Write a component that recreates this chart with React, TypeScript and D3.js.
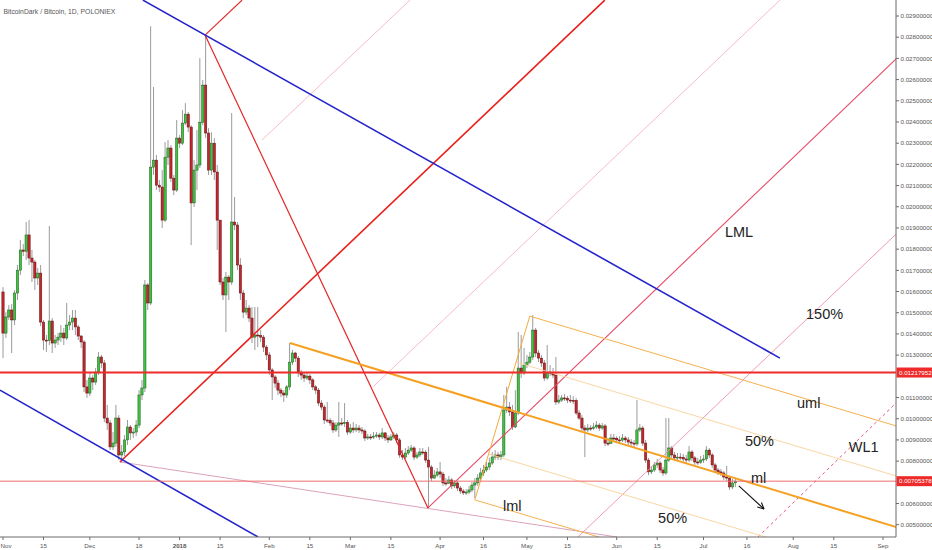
import React from 'react';
import * as d3 from 'd3';

const W = 932;
const H = 550;
const START = Date.UTC(2017, 10, 1);
const END = Date.UTC(2018, 8, 1);
const DAY = 86400000;

// Daily candles, values in milli-BTC (x 0.001 BTC). Candle i is Nov 1 2017 + i days.
const firstOpen = 15.98;
const closes = [
  14.04, 14.8, 15.13, 14.66, 15.93, 17.01, 17.96, 17.9, 18.67, 17.58,
  17.39, 16.64, 16.87, 14.56, 13.71, 13.69, 14.61, 13.57, 13.71, 13.85,
  14.04, 13.81, 14.42, 14.56, 14.75, 14.33, 13.9, 13.62, 11.5, 11.21,
  11.92, 11.73, 12.2, 12.91, 12.63, 10.03, 9.8, 8.67, 8.85, 10.03,
  8.29, 8.43, 9.0, 9.61, 9.33, 9.37, 9.7, 11.12, 11.45, 16.31,
  15.46, 21.87, 22.2, 21.02, 20.93, 19.37, 22.34, 22.77, 21.35, 20.79,
  23.24, 23.0, 23.95, 24.37, 23.76, 20.18, 21.73, 21.97, 23.99, 25.74,
  23.48, 21.73, 23.0, 21.64, 19.37, 16.45, 15.84, 16.68, 16.45, 19.28,
  19.14, 17.25, 15.93, 15.03, 15.22, 14.75, 13.85, 13.95, 13.93, 13.85,
  13.38, 13.01, 12.3, 11.97, 11.68, 11.35, 11.21, 11.12, 11.5, 12.67,
  13.1, 12.86, 12.16, 12.06, 11.92, 12.01, 11.83, 11.5, 11.35, 10.74,
  10.55, 9.94, 9.92, 9.8, 9.47, 9.7, 9.8, 9.79, 9.82, 9.37,
  9.56, 9.47, 9.56, 9.47, 9.42, 9.09, 9.14, 9.13, 9.18, 9.23,
  9.14, 9.33, 9.09, 9.0, 9.14, 9.23, 9.0, 8.29, 8.19, 8.38,
  8.52, 8.62, 8.19, 8.29, 8.43, 8.42, 8.05, 7.72, 7.2, 7.34,
  7.49, 7.39, 6.97, 6.96, 7.11, 6.83, 6.97, 6.73, 6.59, 6.5,
  6.54, 6.64, 6.87, 6.97, 7.2, 7.44, 7.58, 7.72, 7.91, 8.19,
  8.29, 8.19, 8.29, 10.41, 10.55, 10.32, 9.61, 10.27, 12.39, 12.16,
  12.53, 12.67, 12.91, 14.18, 13.1, 12.86, 12.63, 11.92, 12.2, 12.19,
  12.06, 10.79, 10.88, 10.98, 10.97, 10.88, 10.87, 10.86, 10.27, 10.03,
  9.56, 9.47, 9.56, 9.55, 9.61, 9.7, 9.56, 9.66, 8.85, 8.84,
  9.09, 9.08, 9.0, 8.99, 9.09, 9.0, 8.9, 8.85, 8.81, 9.47,
  9.56, 8.85, 8.05, 7.49, 7.58, 7.82, 7.91, 7.58, 7.44, 8.05,
  8.62, 8.29, 8.15, 8.19, 8.18, 8.1, 8.05, 8.43, 8.15, 7.96,
  7.95, 8.05, 8.1, 8.52, 8.29, 7.82, 7.58, 7.49, 7.44, 7.25,
  7.2, 6.78, 6.97, 7.05,
];
const highs = [
  16.21, 15.03, 15.36, 15.41, 16.07, 17.25, 18.43, 18.24, 19.28, 19.37,
  17.96, 17.49, 17.11, 17.25, 14.66, 13.95, 19.09, 14.75, 13.95, 14.04,
  14.42, 14.28, 15.46, 14.89, 15.13, 15.13, 14.42, 13.95, 13.71, 11.83,
  12.2, 12.06, 12.39, 13.15, 13.01, 12.77, 10.65, 9.94, 9.37, 10.65,
  10.17, 8.76, 9.23, 9.94, 9.7, 9.56, 9.94, 11.35, 11.83, 16.54,
  16.4, 28.52, 25.65, 22.44, 21.26, 21.73, 23.05, 23.15, 22.91, 21.5,
  24.09, 23.38, 24.56, 24.89, 24.47, 23.85, 22.2, 23.62, 27.01, 25.98,
  28.1, 23.71, 23.52, 23.24, 21.97, 19.37, 16.64, 16.92, 16.78, 24.42,
  20.46, 19.28, 17.58, 16.07, 15.6, 15.36, 15.27, 15.27, 15.27, 14.18,
  13.95, 13.48, 13.15, 12.39, 12.06, 11.83, 11.45, 11.35, 11.59, 13.57,
  13.24, 13.15, 12.96, 12.3, 12.2, 12.2, 12.11, 11.92, 11.59, 11.45,
  10.88, 10.65, 10.79, 10.03, 9.94, 9.84, 10.79, 10.03, 10.74, 9.94,
  9.75, 9.84, 9.75, 9.7, 9.61, 9.51, 9.28, 9.28, 9.37, 9.37,
  9.33, 9.56, 9.37, 9.23, 9.28, 9.37, 9.33, 9.09, 8.52, 8.62,
  8.71, 8.76, 8.71, 8.43, 8.62, 8.62, 8.52, 8.67, 7.82, 7.58,
  7.68, 7.96, 7.49, 7.2, 7.3, 7.2, 7.11, 7.06, 6.83, 6.68,
  6.68, 6.83, 7.01, 7.2, 7.39, 7.68, 7.82, 7.96, 8.15, 8.43,
  8.52, 8.43, 8.48, 11.12, 11.5, 10.79, 10.65, 11.35, 14.09, 13.95,
  13.34, 13.01, 13.15, 14.89, 14.28, 13.24, 13.01, 12.77, 13.48, 12.53,
  12.39, 12.91, 11.12, 11.12, 11.16, 11.07, 11.12, 11.07, 10.98, 10.41,
  10.17, 9.7, 9.75, 9.7, 9.8, 9.89, 9.8, 9.8, 9.75, 9.09,
  9.28, 9.28, 9.18, 9.18, 9.28, 9.18, 9.14, 9.04, 9.0, 10.88,
  9.75, 9.66, 9.0, 8.15, 7.77, 7.96, 8.1, 8.0, 7.72, 10.03,
  10.03, 8.71, 8.43, 8.38, 8.38, 8.33, 8.29, 8.71, 8.52, 8.24,
  8.15, 8.24, 8.29, 8.71, 8.62, 8.38, 7.91, 7.68, 7.63, 7.53,
  7.77, 7.3, 7.16, 7.2,
];
const lows = [
  12.86, 13.81, 14.66, 13.1, 14.42, 15.6, 16.78, 17.67, 17.49, 17.25,
  16.45, 16.07, 16.31, 14.37, 13.24, 13.15, 13.48, 13.1, 13.34, 13.48,
  13.62, 13.48, 13.71, 14.18, 14.18, 13.95, 13.71, 13.34, 11.26, 10.98,
  11.07, 11.35, 11.59, 12.06, 12.39, 9.84, 9.47, 8.52, 8.52, 8.67,
  8.05, 7.91, 8.24, 8.76, 9.0, 9.09, 9.18, 9.56, 10.88, 11.26,
  15.13, 15.36, 21.5, 20.79, 20.69, 19.0, 19.28, 21.97, 21.17, 20.55,
  20.69, 22.77, 22.91, 23.85, 23.52, 18.19, 19.99, 20.79, 21.83, 23.85,
  23.24, 21.5, 21.5, 21.26, 17.96, 16.31, 15.6, 14.09, 15.6, 16.31,
  18.9, 17.01, 15.6, 14.75, 14.89, 14.56, 13.57, 13.24, 13.38, 13.62,
  13.15, 12.77, 12.06, 10.88, 11.45, 11.12, 11.02, 10.79, 10.98, 11.35,
  12.53, 12.67, 11.97, 11.83, 11.73, 11.83, 11.64, 11.35, 11.16, 10.6,
  10.41, 9.75, 9.8, 9.66, 9.33, 9.37, 9.14, 9.66, 9.61, 9.23,
  9.28, 9.33, 9.37, 9.33, 9.28, 8.95, 9.0, 9.0, 9.04, 9.09,
  9.0, 9.04, 8.95, 8.85, 8.95, 9.04, 8.85, 8.15, 8.05, 8.1,
  8.29, 8.43, 8.05, 8.1, 8.19, 8.29, 7.91, 5.79, 7.06, 7.16,
  7.25, 7.2, 6.83, 6.83, 6.92, 6.68, 6.73, 6.59, 6.45, 6.4,
  6.4, 6.45, 6.54, 6.26, 6.83, 7.11, 7.3, 7.49, 7.58, 7.82,
  8.05, 8.05, 8.05, 8.19, 10.27, 10.13, 9.47, 9.56, 10.17, 11.92,
  12.06, 12.39, 12.58, 12.77, 12.91, 12.67, 12.44, 11.78, 11.83, 12.01,
  11.92, 10.65, 10.69, 10.79, 10.84, 10.74, 10.74, 10.69, 10.17, 9.94,
  9.42, 8.19, 9.37, 9.42, 9.47, 9.51, 9.42, 9.47, 8.71, 8.71,
  8.81, 8.95, 8.85, 8.85, 8.9, 8.85, 8.76, 8.71, 8.67, 8.71,
  9.37, 8.71, 7.91, 7.34, 7.39, 7.49, 7.68, 7.44, 7.3, 7.34,
  7.96, 8.15, 8.0, 8.0, 8.05, 7.96, 7.91, 7.96, 8.0, 7.82,
  7.82, 7.87, 7.91, 8.0, 8.15, 7.68, 7.44, 7.34, 7.3, 7.11,
  7.06, 6.64, 6.68, 6.78,
];

// Price axis ticks (mBTC) and time axis ticks
const priceTicks = d3.range(5, 29.5, 1);
const xTickDates = [
  '2017-11-01', '2017-11-15', '2017-12-01', '2017-12-18', '2018-01-01', '2018-01-15',
  '2018-02-01', '2018-02-15', '2018-03-01', '2018-03-15', '2018-04-01', '2018-04-16',
  '2018-05-01', '2018-05-15', '2018-06-01', '2018-06-15', '2018-07-01', '2018-07-16',
  '2018-08-01', '2018-08-15', '2018-09-01',
];
const xTickLabels = [
  'Nov', '15', 'Dec', '18', '2018', '15', 'Feb', '15', 'Mar', '15', 'Apr', '16',
  'May', '15', 'Jun', '15', 'Jul', '16', 'Aug', '15', 'Sep',
];

// Drawing anchors: [day offset from Nov 1 2017, price in mBTC]
const blueLines = [
  [[48.3, 29.75], [268.4, 12.86]],
  [[-1.04, 11.35], [88.1, 4.42]],
];
const redThickLine = [[40.4, 7.96], [207.9, 29.75]];
const redSwingLines = [
  [[69.8, 28.1], [146.8, 5.79]],
  [[69.8, 28.1], [82.6, 29.75]],
];
const lmlLine = [[146.8, 5.79], [310, 27.17]];
const pinkFaintLines = [
  [[89.5, 23.15], [140.6, 29.75]],
  [[127.8, 11.5], [268.4, 29.75]],
];
const pink150Line = [[198.6, 4.42], [310, 18.9]];
const wl1Line = [[260.8, 4.42], [310, 10.94]];
const mauveLine = [[40.4, 7.96], [212.1, 4.42]];
const orangeMedian = [[99.1, 13.57], [310, 4.83]];
const orangeUpper = [[182.0, 14.84], [310, 9.6]];
const orangeLower = [[163.0, 6.17], [230, 3.43]];
const orangeHandle = [[163.0, 6.17], [182.0, 14.84]];
const orangeHalfLines = [
  [[177.2, 12.67], [310, 7.24]],
  [[167.9, 8.33], [310, 2.51]],
];
const levels = [12.17952, 7.05378];
const levelLabels = ['0.01217952', '0.00705378'];
const arrowLine = [[254.2, 6.83], [262.9, 5.74]];
const textNotes = [
  { t: 'LML', d: 249.4, p: 18.57 },
  { t: '150%', d: 277.4, p: 14.7 },
  { t: 'uml', d: 274.3, p: 10.5 },
  { t: '50%', d: 256.3, p: 8.71 },
  { t: 'WL1', d: 292.2, p: 8.43 },
  { t: 'ml', d: 258.4, p: 6.97 },
  { t: 'lml', d: 172.7, p: 5.65 },
  { t: '50%', d: 226.3, p: 5.1 },
];
const title = 'BitcoinDark / Bitcoin, 1D, POLONIEX';

const FONT = 'Liberation Sans, Arial, sans-serif';

export default function App() {
  const x = d3.scaleUtc().domain([new Date(START), new Date(END)]).range([3, 883]);
  const y = d3.scaleLinear().domain([5, 29]).range([524.7, 16]);
  const dx = (d: number) => x(new Date(START + d * DAY));
  const plotR = 896;
  const plotB = 537;

  const seg = (pts: number[][], key: string, stroke: string, sw: number, extra: any = {}) => (
    <line
      key={key}
      x1={dx(pts[0][0])}
      y1={y(pts[0][1])}
      x2={dx(pts[1][0])}
      y2={y(pts[1][1])}
      stroke={stroke}
      strokeWidth={sw}
      {...extra}
    />
  );

  const candles = closes.map((c, i) => {
    const o = i === 0 ? firstOpen : closes[i - 1];
    const h = Math.max(highs[i], o, c);
    const l = Math.min(lows[i], o, c);
    const cx = dx(i);
    const up = c >= o;
    const top = y(Math.max(o, c));
    const bh = Math.max(1, Math.abs(y(o) - y(c)));
    return (
      <g key={'c' + i}>
        <line x1={cx} x2={cx} y1={y(h)} y2={y(l)} stroke="#8e8e8e" strokeWidth={0.9} />
        <rect
          x={cx - 1.15}
          y={top}
          width={2.3}
          height={bh}
          fill={up ? '#3fc23f' : '#c1272d'}
          stroke={up ? '#1d5a1d' : '#650d0d'}
          strokeWidth={0.5}
        />
      </g>
    );
  });

  const a0 = [dx(arrowLine[0][0]), y(arrowLine[0][1])];
  const a1 = [dx(arrowLine[1][0]), y(arrowLine[1][1])];
  const ang = Math.atan2(a1[1] - a0[1], a1[0] - a0[0]);
  const hl = 7;
  const head = [ang + Math.PI - 0.45, ang + Math.PI + 0.45].map((t) => [a1[0] + hl * Math.cos(t), a1[1] + hl * Math.sin(t)]);

  const levelYs = levels.map((v) => y(v));

  return (
    <div style={{ position: 'absolute', left: 0, top: 0 }}>
      <svg width={W} height={H} style={{ display: 'block', background: '#fff' }} fontFamily={FONT}>
        <defs>
          <clipPath id="plot">
            <rect x={0} y={0} width={plotR} height={plotB} />
          </clipPath>
        </defs>
        <rect x={0} y={0} width={W} height={H} fill="#fff" />
        <g clipPath="url(#plot)">
          {candles}
          {seg(mauveLine, 'mauve', '#dba3bd', 1)}
          {pinkFaintLines.map((p, i) => seg(p, 'pf' + i, '#f6b3c2', 0.9))}
          {seg(pink150Line, 'p150', '#f090a8', 0.9)}
          {seg(wl1Line, 'wl1', '#e8557a', 1, { strokeDasharray: '3,3' })}
          {seg(lmlLine, 'lml', '#e64a66', 1.1)}
          {redSwingLines.map((p, i) => seg(p, 'rs' + i, '#e32626', 1.2))}
          {seg(redThickLine, 'rt', '#e8201c', 1.6)}
          {orangeHalfLines.map((p, i) => seg(p, 'oh' + i, '#fad6a4', 1))}
          {seg(orangeUpper, 'ou', '#f6b14e', 1)}
          {seg(orangeLower, 'ol', '#f6b14e', 1)}
          {seg(orangeHandle, 'oha', '#f6a83a', 1)}
          {seg(orangeMedian, 'om', '#f5a021', 2)}
          {blueLines.map((p, i) => seg(p, 'b' + i, '#2424cc', 1.6))}
          <line x1={0} x2={plotR} y1={levelYs[0]} y2={levelYs[0]} stroke="#ee2a2a" strokeWidth={2} />
          <line x1={0} x2={plotR} y1={levelYs[1]} y2={levelYs[1]} stroke="#f06c6c" strokeWidth={1} />
          <line x1={a0[0]} y1={a0[1]} x2={a1[0]} y2={a1[1]} stroke="#111" strokeWidth={1.1} />
          {head.map((p, i) => (
            <line key={'ah' + i} x1={a1[0]} y1={a1[1]} x2={p[0]} y2={p[1]} stroke="#111" strokeWidth={1.1} />
          ))}
          {textNotes.map((n, i) => (
            <text key={'n' + i} x={dx(n.d)} y={y(n.p)} fontSize={14.5} fill="#222">
              {n.t}
            </text>
          ))}
        </g>
        <text x={3.5} y={13.5} fontSize={6.8} fill="#555">
          {title}
        </text>
        {/* axes */}
        <line x1={plotR} x2={plotR} y1={0} y2={plotB} stroke="#6b6b6b" strokeWidth={1} />
        <line x1={0} x2={plotR} y1={plotB} y2={plotB} stroke="#6b6b6b" strokeWidth={1} />
        {priceTicks
          .filter((t) => levelYs.every((ly) => Math.abs(y(t) - ly) > 7))
          .map((t) => (
            <g key={'yt' + t}>
              <line x1={plotR} x2={plotR + 3} y1={y(t)} y2={y(t)} stroke="#6b6b6b" />
              <text x={plotR + 4.5} y={y(t)} dy="0.35em" fontSize={6.2} fill="#555">
                {(t / 1000).toFixed(8)}
              </text>
            </g>
          ))}
        {levels.map((v, i) => (
          <g key={'lv' + i}>
            <rect x={plotR + 0.5} y={y(v) - 5} width={W - plotR} height={10} fill="#ee2a2a" />
            <text x={plotR + 3} y={y(v)} dy="0.35em" fontSize={6.2} fill="#fff">
              {levelLabels[i]}
            </text>
          </g>
        ))}
        {xTickDates.map((s, i) => {
          const xx = x(new Date(s + 'T00:00:00Z'));
          const first = i === 0;
          return (
            <g key={'xt' + i}>
              <line x1={xx} x2={xx} y1={plotB} y2={plotB + 3} stroke="#6b6b6b" />
              <text
                x={first ? 0.5 : xx}
                y={547.5}
                fontSize={6.2}
                fill="#555"
                textAnchor={first ? 'start' : 'middle'}
                fontWeight={xTickLabels[i] === '2018' ? 'bold' : 'normal'}
              >
                {xTickLabels[i]}
              </text>
            </g>
          );
        })}
      </svg>
    </div>
  );
}
